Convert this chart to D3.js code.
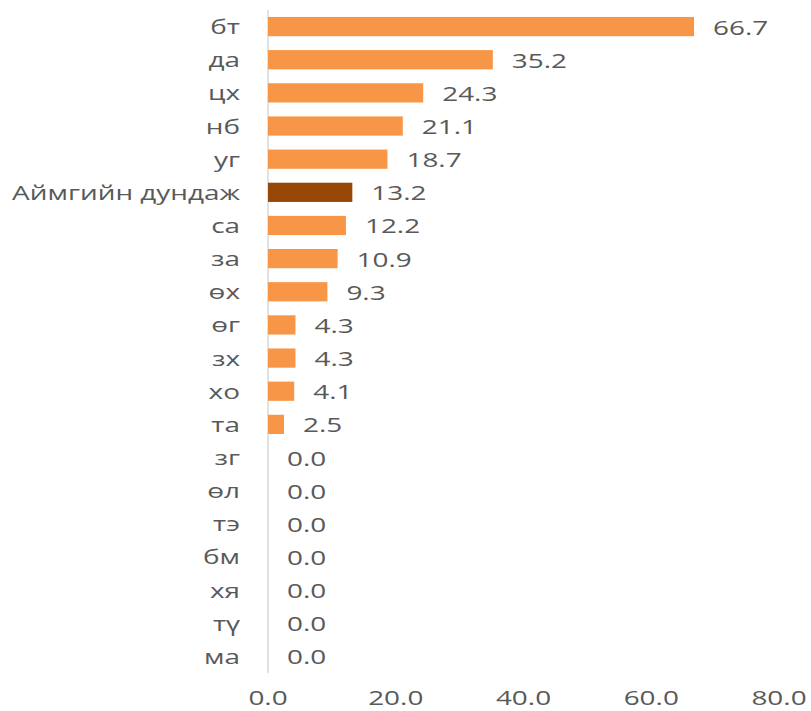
<!DOCTYPE html>
<html><head><meta charset="utf-8">
<script src="https://cdn.jsdelivr.net/npm/d3@7"></script>
<style>body{margin:0;background:#fff;}svg{display:block;}</style>
</head><body>
<script>
const categories = ["бт","да","цх","нб","уг","Аймгийн дундаж","са","за","өх","өг","зх","хо","та","зг","өл","тэ","бм","хя","тү","ма"];
const values = [66.7,35.2,24.3,21.1,18.7,13.2,12.2,10.9,9.3,4.3,4.3,4.1,2.5,0,0,0,0,0,0,0];
const highlight = ["Аймгийн дундаж"];
const xTicks = [0,20,40,60,80];

const W = 811, H = 711;
const svg = d3.select("body").append("svg").attr("width", W).attr("height", H);
const x = d3.scaleLinear().domain([0,80]).range([268,779]);
const y = d3.scaleBand().domain(categories).range([10,673]).paddingInner(0.42).paddingOuter(0.21);
const font = "'Open Sans', sans-serif";
const fs = 19.5;
const col = "#595959";

const probe = svg.append("text").attr("font-family", font).attr("font-size", fs).text("Аймгийн дундаж");
const sx = 228 / probe.node().getComputedTextLength();
probe.remove();

svg.append("line").attr("x1", x(0)).attr("x2", x(0)).attr("y1", 10).attr("y2", 673)
  .attr("stroke", "#d9d9d9").attr("stroke-width", 1.5);

const data = categories.map((c,i)=>({c, v: values[i]}));
svg.selectAll("rect.bar").data(data).join("rect").attr("class","bar")
  .attr("x", x(0)).attr("y", d=>y(d.c)).attr("width", d=>x(d.v)-x(0)).attr("height", y.bandwidth())
  .attr("fill", d=>highlight.includes(d.c) ? "#974706" : "#F79646");

function stretchedText(g, px, py, anchor, txt){
  g.append("text").attr("transform", `translate(${px},${py}) scale(${sx},1)`)
    .attr("text-anchor", anchor).attr("font-family", font).attr("font-size", fs)
    .attr("fill", col).attr("dy", "0.36em").text(txt);
}
const g = svg.append("g");
data.forEach(d=>{
  stretchedText(g, 240, y(d.c)+y.bandwidth()/2 + 0.5, "end", d.c);
  stretchedText(g, x(d.v)+19, y(d.c)+y.bandwidth()/2 + 1, "start", d.v.toFixed(1));
});
xTicks.forEach(t=>{
  stretchedText(g, x(t), 697.5, "middle", t.toFixed(1));
});
</script>
</body></html>
